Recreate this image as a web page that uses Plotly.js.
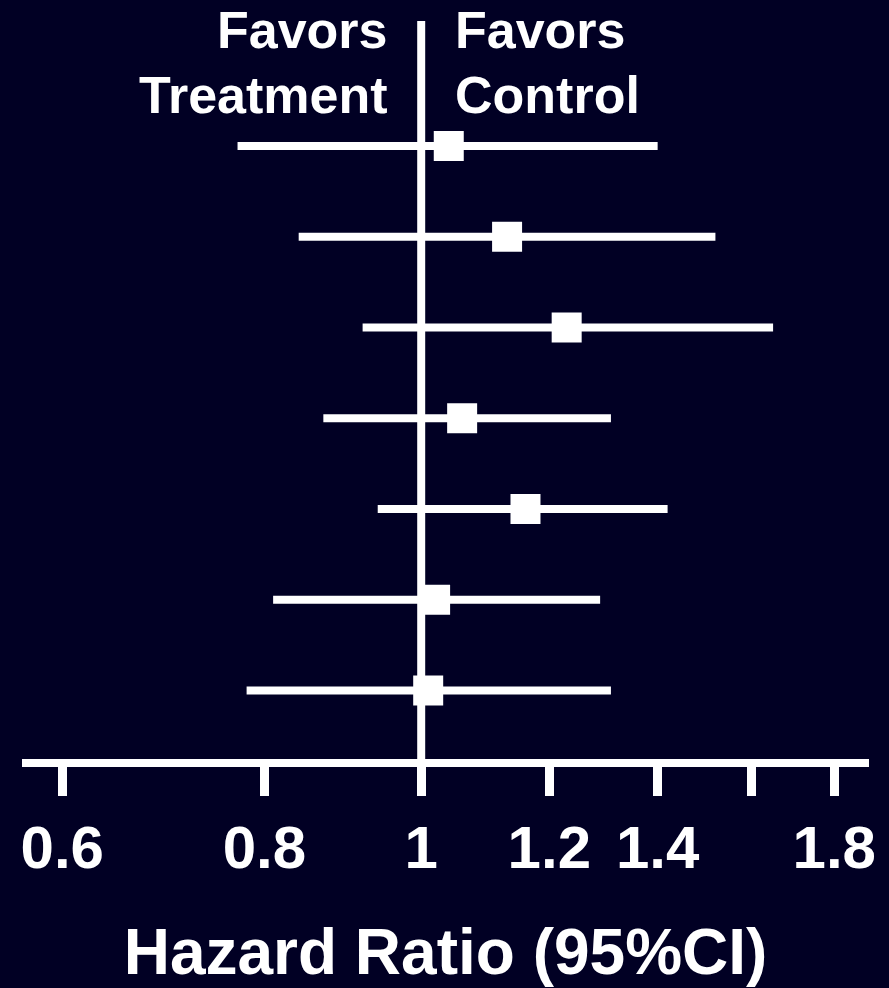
<!DOCTYPE html>
<html>
<head>
<meta charset="utf-8">
<script src="https://cdn.plot.ly/plotly-3.0.1.min.js"></script>
<style>
  html, body { margin: 0; padding: 0; background: #010024; }
  #chart { width: 889px; height: 988px; }
</style>
</head>
<body>
<div id="chart"></div>
<script>
// Row order from top (1) to bottom (7)
const rows = [1, 2, 3, 4, 5, 6, 7];
const hazardRatio = [1.04, 1.13, 1.23, 1.06, 1.16, 1.02, 1.01];
const ciLower     = [0.77, 0.84, 0.92, 0.87, 0.94, 0.81, 0.78];
const ciUpper     = [1.40, 1.52, 1.65, 1.31, 1.42, 1.29, 1.31];

const tickValues = [0.6, 0.8, 1, 1.2, 1.4, 1.6, 1.8];
const tickLabels = ['0.6', '0.8', '1', '1.2', '1.4', '', '1.8'];

const leftLines = ['Favors', 'Treatment'];
const rightLines = ['Favors', 'Control'];
const xTitle = 'Hazard Ratio (95%CI)';

const bg = '#010024';
const fg = '#ffffff';
const fontFam = 'Arial, "Liberation Sans", Helvetica, sans-serif';

const trace = {
  type: 'scatter',
  mode: 'markers',
  x: hazardRatio,
  y: rows,
  marker: { symbol: 'square', size: 30, color: fg, line: { width: 0 } },
  error_x: {
    type: 'data',
    symmetric: false,
    array: hazardRatio.map((v, i) => ciUpper[i] - v),
    arrayminus: hazardRatio.map((v, i) => v - ciLower[i]),
    color: fg,
    thickness: 8,
    width: 0
  },
  hoverinfo: 'skip',
  showlegend: false
};

const labelFont = { family: fontFam, size: 52, weight: 'bold', color: fg };
const lineShifts = [22, -43];
const annotations = [];
leftLines.forEach((t, i) => annotations.push({
  text: t, xref: 'x', yref: 'paper', x: 0, y: 1,
  xanchor: 'right', yanchor: 'top', align: 'right',
  xshift: -31, yshift: lineShifts[i], showarrow: false, font: labelFont
}));
rightLines.forEach((t, i) => annotations.push({
  text: t, xref: 'x', yref: 'paper', x: 0, y: 1,
  xanchor: 'left', yanchor: 'top', align: 'left',
  xshift: 32, yshift: lineShifts[i], showarrow: false, font: labelFont
}));

const layout = {
  width: 889,
  height: 988,
  margin: { l: 22, r: 20, t: 21, b: 229, pad: 0 },
  paper_bgcolor: bg,
  plot_bgcolor: bg,
  font: { family: fontFam, color: fg },
  xaxis: {
    type: 'log',
    range: [-0.24672, 0.27676],
    showgrid: false,
    zeroline: false,
    showline: true,
    linecolor: fg,
    linewidth: 8,
    ticks: 'outside',
    ticklen: 29,
    tickwidth: 9,
    tickcolor: fg,
    tickmode: 'array',
    tickvals: tickValues,
    ticktext: tickLabels,
    tickfont: { family: fontFam, size: 60, weight: 'bold', color: fg },
    title: {
      text: xTitle,
      font: { family: fontFam, size: 64, weight: 'bold', color: fg },
      standoff: 57
    },
    fixedrange: true
  },
  yaxis: {
    range: [7.7548, -0.3774],
    visible: false,
    showgrid: false,
    zeroline: false,
    fixedrange: true
  },
  shapes: [{
    type: 'line',
    xref: 'x', yref: 'paper',
    x0: 1, x1: 1, y0: 0, y1: 1,
    line: { color: fg, width: 8 },
    layer: 'below'
  }],
  annotations: annotations
};

Plotly.newPlot('chart', [trace], layout, { displayModeBar: false, staticPlot: true });
</script>
</body>
</html>
